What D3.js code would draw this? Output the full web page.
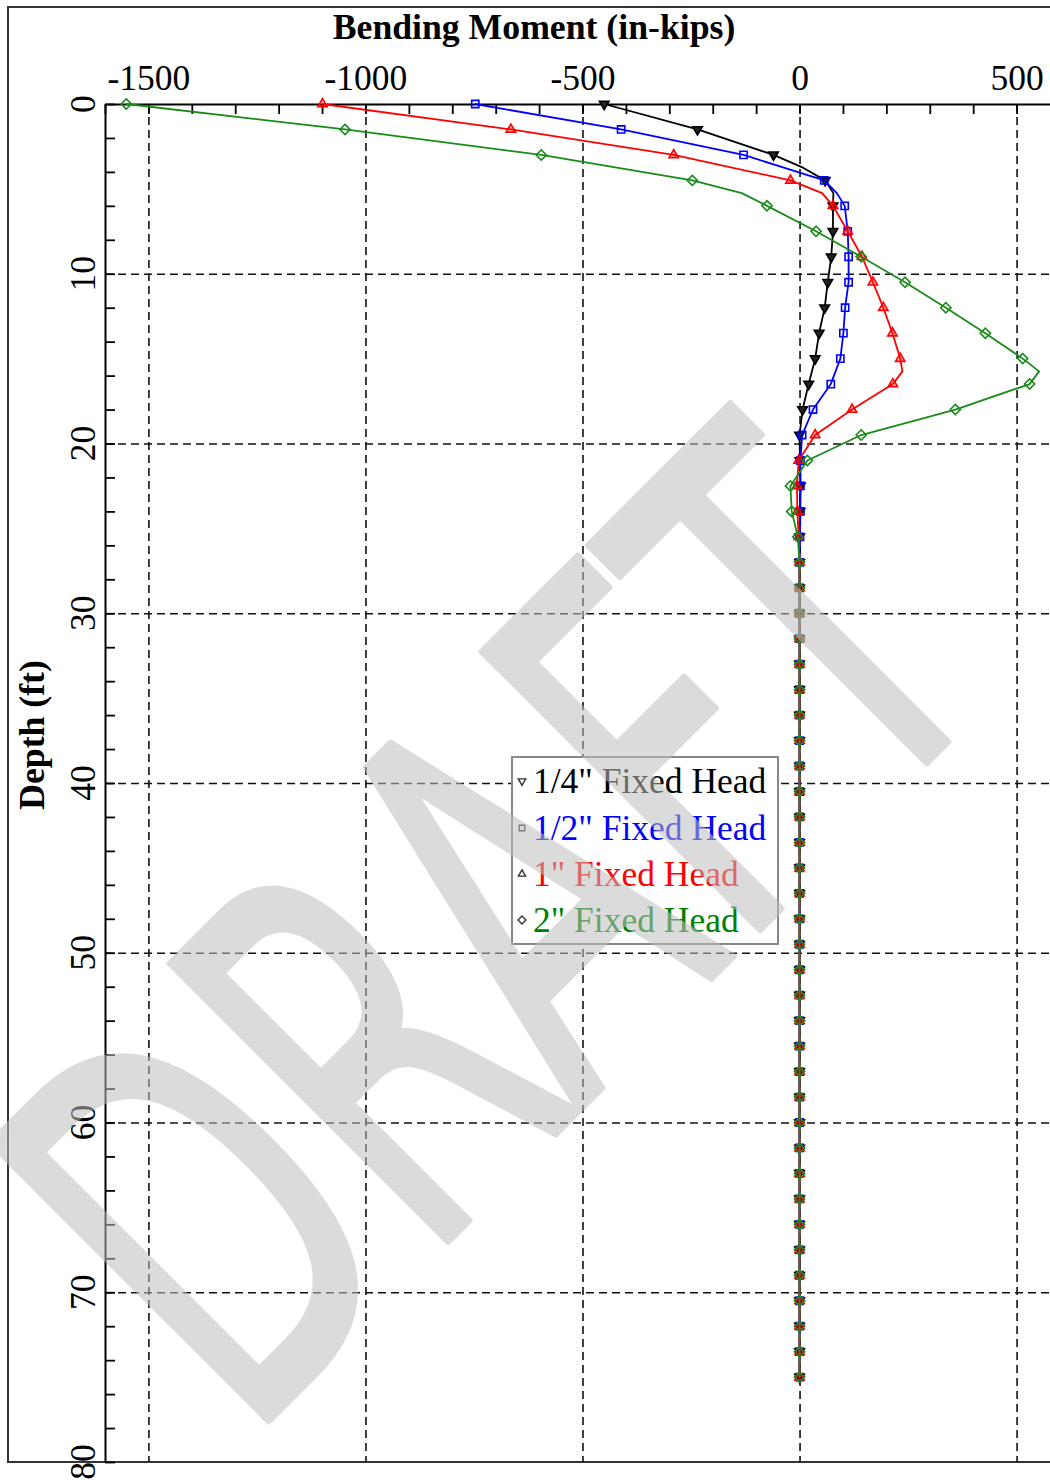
<!DOCTYPE html>
<html>
<head>
<meta charset="utf-8">
<script src="https://cdn.jsdelivr.net/npm/d3@7"></script>
<style>
  html, body { margin: 0; padding: 0; background: #fff; }
  svg { display: block; }
</style>
</head>
<body>
<svg id="chart" width="1050" height="1480"></svg>
<script>
// Pile bending moment vs. depth for four fixed-head deflections.
// Marker depths every 1.5 ft (ft); moments in in-kips.
const depths = [
  0, 1.5, 3, 4.5, 6, 7.5, 9, 10.5, 12, 13.5, 15, 16.5, 18, 19.5, 21, 22.5, 24, 25.5,
  27, 28.5, 30, 31.5, 33, 34.5, 36, 37.5, 39, 40.5, 42, 43.5, 45, 46.5, 48, 49.5,
  51, 52.5, 54, 55.5, 57, 58.5, 60, 61.5, 63, 64.5, 66, 67.5, 69, 70.5, 72, 73.5, 75
];

const quarterInch = [
  -450, -235, -60, 59, 77, 77, 73, 65, 58, 45, 36, 21, 7, 0, 1, 2, 1, 0,
  0, 0, 0, 0, 0, 0, 0, 0, 0, 0, 0, 0, 0, 0, 0, 0,
  0, 0, 0, 0, 0, 0, 0, 0, 0, 0, 0, 0, 0, 0, 0, 0, 0
];
const halfInch = [
  -747, -411, -129, 57, 104, 111, 113, 113, 105, 101, 94, 72, 31, 6, 2, 2, 2, 1,
  0, 0, 0, 0, 0, 0, 0, 0, 0, 0, 0, 0, 0, 0, 0, 0,
  0, 0, 0, 0, 0, 0, 0, 0, 0, 0, 0, 0, 0, 0, 0, 0, 0
];
const oneInch = [
  -1099, -665, -290, -21, 77, 111, 144, 169, 193, 214, 232, 215, 121, 36, -2, -6, -5, -2,
  0, 0, 0, 0, 0, 0, 0, 0, 0, 0, 0, 0, 0, 0, 0, 0,
  0, 0, 0, 0, 0, 0, 0, 0, 0, 0, 0, 0, 0, 0, 0, 0, 0
];
const twoInch = [
  -1551, -1047, -595, -247, -75, 38, 142, 243, 337, 428, 514, 530, 359, 142, 18, -21, -18, -4,
  0, 0, 0, 0, 0, 0, 0, 0, 0, 0, 0, 0, 0, 0, 0, 0,
  0, 0, 0, 0, 0, 0, 0, 0, 0, 0, 0, 0, 0, 0, 0, 0, 0
];

// Intermediate solution nodes between markers where the curves bend: [depth, moment]
const quarterInchNodes = [[3.75, 8], [5.25, 78]];
const halfInchNodes = [[5.25, 86]];
const oneInchNodes = [[5.25, 52], [15.75, 237]];
const twoInchNodes = [[5.25, -133], [15.75, 552]];

const seriesNames = ['1/4" Fixed Head', '1/2" Fixed Head', '1" Fixed Head', '2" Fixed Head'];
const seriesColors = ['#000000', '#0000ff', '#ff0000', '#1a8a1a'];
const legendTextColors = ['#000000', '#0000ff', '#ff0000', '#008000'];

const xTicksMajor = [-1500, -1000, -500, 0, 500];
const xTicksMinor = d3.range(-1600, 601, 100);
const yTicksMajor = [0, 10, 20, 30, 40, 50, 60, 70, 80];
const yTicksMinor = d3.range(0, 81, 2);
const yGrid = [10, 20, 30, 40, 50, 60, 70];

const svg = d3.select('#chart');
const serif = '"Liberation Serif", "Times New Roman", serif';

const plotLeft = 105, plotTop = 104, plotBottom = 1462, plotRight = 1060;
const x = d3.scaleLinear().domain([-1600, 600]).range([plotLeft, plotRight]);
const y = d3.scaleLinear().domain([0, 80]).range([plotTop, plotBottom]);

// outer frame
svg.append('rect')
  .attr('x', 8).attr('y', 7).attr('width', 1100).attr('height', plotBottom - 7)
  .attr('fill', '#fff').attr('stroke', '#333').attr('stroke-width', 2);

// dashed grid
const gridX = svg.append('g').attr('transform', `translate(0,${plotTop})`)
  .call(d3.axisTop(x).tickValues(xTicksMajor).tickSize(-(plotBottom - plotTop)).tickFormat(''));
const gridY = svg.append('g').attr('transform', `translate(${plotLeft},0)`)
  .call(d3.axisLeft(y).tickValues(yGrid).tickSize(-(plotRight - plotLeft)).tickFormat(''));
[gridX, gridY].forEach(g => {
  g.select('.domain').remove();
  g.selectAll('line').attr('stroke', '#111').attr('stroke-width', 1.6).attr('stroke-dasharray', '8,5');
});

// top axis: minor ticks pointing into the plot
const topMinor = svg.append('g').attr('transform', `translate(0,${plotTop})`)
  .call(d3.axisTop(x).tickValues(xTicksMinor).tickSizeInner(-10).tickSizeOuter(0).tickFormat(''));
topMinor.select('.domain').attr('stroke', '#000').attr('stroke-width', 2);
topMinor.selectAll('line').attr('stroke', '#000').attr('stroke-width', 1.8);

const topLabels = svg.append('g').attr('transform', `translate(0,${plotTop})`)
  .call(d3.axisTop(x).tickValues(xTicksMajor).tickSize(0).tickPadding(14).tickFormat(d => String(d)));
topLabels.select('.domain').remove();
topLabels.selectAll('text')
  .attr('font-family', serif).attr('font-size', 35.5).attr('fill', '#000');

// left axis: minor ticks pointing into the plot
const leftAxis = svg.append('g').attr('transform', `translate(${plotLeft},0)`)
  .call(d3.axisLeft(y).tickValues(yTicksMinor).tickSizeInner(-10).tickSizeOuter(0).tickFormat(''));
leftAxis.select('.domain').attr('stroke', '#000').attr('stroke-width', 2);
leftAxis.selectAll('line').attr('stroke', '#000').attr('stroke-width', 1.8);

// rotated depth labels
svg.append('g').selectAll('text').data(yTicksMajor).join('text')
  .attr('transform', d => `translate(95,${y(d)}) rotate(-90)`)
  .attr('text-anchor', 'middle')
  .attr('font-family', serif).attr('font-size', 35.5).attr('fill', '#000')
  .text(d => d);

// axis titles
svg.append('text')
  .attr('x', 534).attr('y', 39).attr('text-anchor', 'middle')
  .attr('font-family', serif).attr('font-size', 35.7).attr('font-weight', 'bold')
  .text('Bending Moment (in-kips)');
svg.append('text')
  .attr('transform', `translate(44,735) rotate(-90)`).attr('text-anchor', 'middle')
  .attr('font-family', serif).attr('font-size', 35.7).attr('font-weight', 'bold')
  .text('Depth (ft)');

// curves
const seriesValues = [quarterInch, halfInch, oneInch, twoInch];
const seriesNodes = [quarterInchNodes, halfInchNodes, oneInchNodes, twoInchNodes];
const line = d3.line().x(p => x(p[1])).y(p => y(p[0]));

const markerShapes = [
  { type: d3.symbolTriangle, size: 40, rotate: 180, fill: '#222' },
  { type: d3.symbolSquare, size: 52, rotate: 0, fill: 'none' },
  { type: d3.symbolTriangle, size: 38, rotate: 0, fill: 'rgba(255,0,0,0.3)' },
  { type: d3.symbolSquare, size: 52, rotate: 45, fill: 'none' }
];

seriesValues.forEach((vals, i) => {
  const pts = depths.map((d, k) => [d, vals[k]]).concat(seriesNodes[i]).sort((a, b) => a[0] - b[0]);
  const g = svg.append('g');
  g.append('path').datum(pts)
    .attr('d', line).attr('fill', 'none')
    .attr('stroke', seriesColors[i]).attr('stroke-width', 1.8).attr('stroke-linejoin', 'round');
  const m = markerShapes[i];
  g.selectAll('path.marker').data(depths.map((d, k) => [d, vals[k]])).join('path')
    .attr('class', 'marker')
    .attr('transform', p => `translate(${x(p[1])},${y(p[0])}) rotate(${m.rotate})`)
    .attr('d', d3.symbol(m.type, m.size))
    .attr('fill', m.fill)
    .attr('stroke', seriesColors[i]).attr('stroke-width', 1.6);
});

// legend
const legend = svg.append('g');
legend.append('rect')
  .attr('x', 512).attr('y', 757).attr('width', 266).attr('height', 187)
  .attr('fill', '#fff').attr('stroke', '#888').attr('stroke-width', 2);
const rowY = [781, 828, 874, 920];
seriesNames.forEach((name, i) => {
  const m = markerShapes[i];
  legend.append('path')
    .attr('transform', `translate(522,${rowY[i]}) rotate(${m.rotate})`)
    .attr('d', d3.symbol(m.type, m.size * 0.6))
    .attr('fill', 'none').attr('stroke', '#333').attr('stroke-width', 1.4);
  legend.append('text')
    .attr('x', 533).attr('y', rowY[i] + 12)
    .attr('font-family', serif).attr('font-size', 35.5)
    .attr('fill', legendTextColors[i])
    .text(name);
});

// watermark
const mark = svg.append('g').attr('opacity', 0.55);
mark.append('text')
  .attr('transform', 'translate(245,1445) rotate(-45)')
  .attr('font-family', '"DejaVu Sans", sans-serif').attr('font-size', 540)
  .attr('textLength', 1080).attr('lengthAdjust', 'spacingAndGlyphs')
  .attr('fill', '#bebebe').attr('stroke', '#bebebe')
  .attr('stroke-width', 6).attr('stroke-linejoin', 'round')
  .text('DRAFT');
</script>
</body>
</html>
